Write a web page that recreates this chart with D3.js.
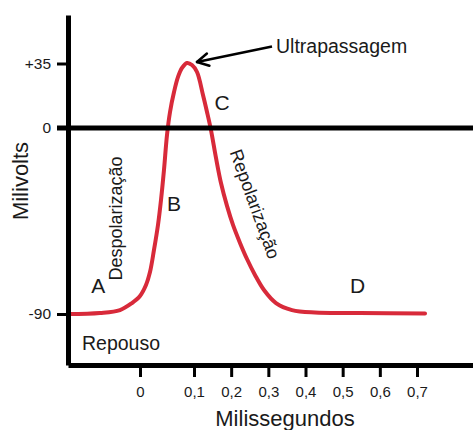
<!DOCTYPE html>
<html>
<head>
<meta charset="utf-8">
<script src="https://cdn.jsdelivr.net/npm/d3@7"></script>
<style>
  html, body { margin: 0; padding: 0; background: #ffffff; }
  svg { display: block; }
  text { font-family: "Liberation Sans", Arial, Helvetica, sans-serif; fill: #1a1a1a; }
</style>
</head>
<body>
<svg id="chart" width="473" height="430"></svg>
<script>
// ---- data ----
const timeMs = [-0.133, -0.0741, -0.037, -0.0148, 0, 0.0111, 0.0185, 0.0259, 0.0333, 0.0389, 0.0444, 0.05, 0.0556,
                0.063, 0.0704, 0.0778, 0.087, 0.0963, 0.1081, 0.1242, 0.135, 0.1457, 0.1592, 0.1726, 0.1888,
                0.2049, 0.2238, 0.2426, 0.2641, 0.2883, 0.3206, 0.3637, 0.4255, 0.5466, 0.7215];
const milivolts = [-90, -89.5, -88.1, -84.7, -81.3, -76.0, -69.7, -59.0, -46.9, -34.8, -20.3, -3.4, 8.7,
                   19.5, 27.7, 32.6, 35.3, 34.2, 30.4, 17.9, 8.7, -1.0, -14.5, -26.6, -37.7,
                   -46.9, -55.6, -63.4, -71.1, -78.4, -84.7, -88.1, -89.3, -89.5, -89.7];
const xTickValues = [0, 0.1, 0.2, 0.3, 0.4, 0.5, 0.6, 0.7];
const xTickLabels = ["0", "0,1", "0,2", "0,3", "0,4", "0,5", "0,6", "0,7"];
const yTickValues = [-90, 0, 35];
const yTickLabels = ["-90", "0", "+35"];
const phaseLabels = ["A", "B", "C", "D"];
const phaseTimes = [-0.09, 0.05, 0.155, 0.52];
const phaseVolts = [-80, -40, 10, -80];
const xTitle = "Milissegundos";
const yTitle = "Milivolts";
const peakLabel = "Ultrapassagem";
const restLabel = "Repouso";
const depolLabel = "Despolarização";
const repolLabel = "Repolarização";

// ---- scales (the original axes are not uniformly spaced) ----
const x = d3.scaleLinear().domain([-0.133, 0, 0.1, 0.7, 0.85]).range([68, 140, 194, 417, 473]);
const y = d3.scaleLinear().domain([-114.7, -90, 0, 35, 61.3]).range([365, 314, 128, 63.5, 15]);

const svg = d3.select("#chart");

// curve
const line = d3.line().x((d, i) => x(timeMs[i])).y(d => y(d)).curve(d3.curveCatmullRom.alpha(0.5));
svg.append("path")
  .attr("d", line(milivolts))
  .attr("fill", "none")
  .attr("stroke", "#d82a3a")
  .attr("stroke-width", 4)
  .attr("stroke-linejoin", "round")
  .attr("stroke-linecap", "round");

// zero line
svg.append("line")
  .attr("x1", 57).attr("x2", 473)
  .attr("y1", y(0)).attr("y2", y(0))
  .attr("stroke", "#000").attr("stroke-width", 5);

// x axis
const xAxis = d3.axisBottom(x)
  .tickValues(xTickValues)
  .tickFormat((d, i) => xTickLabels[i])
  .tickSize(12).tickSizeOuter(0).tickPadding(9);
const gx = svg.append("g").attr("transform", `translate(0,${y(-114.7)})`).call(xAxis);
gx.select(".domain").attr("stroke", "#000").attr("stroke-width", 5);
gx.selectAll(".tick line").attr("stroke", "#000").attr("stroke-width", 3);
gx.selectAll(".tick text").attr("font-size", 15).attr("fill", "#1a1a1a")
  .style("font-family", '"Liberation Sans", Arial, sans-serif');

// y axis
const yAxis = d3.axisLeft(y)
  .tickValues(yTickValues)
  .tickFormat((d, i) => yTickLabels[i])
  .tickSize(11).tickSizeOuter(0).tickPadding(6);
const gy = svg.append("g").attr("transform", `translate(${x(-0.133)},0)`).call(yAxis);
gy.select(".domain").attr("stroke", "#000").attr("stroke-width", 5);
gy.selectAll(".tick line").attr("stroke", "#000").attr("stroke-width", 3);
gy.selectAll(".tick text").attr("font-size", 15.5).attr("fill", "#1a1a1a")
  .style("font-family", '"Liberation Sans", Arial, sans-serif');

// axis titles
svg.append("text")
  .attr("x", 285).attr("y", 426)
  .attr("text-anchor", "middle")
  .attr("font-size", 22)
  .text(xTitle);
svg.append("text")
  .attr("transform", "translate(28,181) rotate(-90)")
  .attr("text-anchor", "middle")
  .attr("font-size", 22)
  .text(yTitle);

// phase letters
phaseLabels.forEach((lab, i) => {
  svg.append("text")
    .attr("x", x(phaseTimes[i])).attr("y", y(phaseVolts[i]))
    .attr("font-size", 21)
    .text(lab);
});

// rest label
svg.append("text")
  .attr("x", 82).attr("y", 350)
  .attr("font-size", 19.5)
  .text(restLabel);

// depolarisation (rotated)
svg.append("text")
  .attr("transform", "translate(115.5,218.5) rotate(-90)")
  .attr("text-anchor", "middle")
  .attr("dy", "0.35em")
  .attr("font-size", 18)
  .text(depolLabel);

// repolarisation (tilted)
svg.append("text")
  .attr("transform", "translate(255,204) rotate(70)")
  .attr("text-anchor", "middle")
  .attr("dy", "0.35em")
  .attr("font-size", 18)
  .text(repolLabel);

// overshoot label with arrow
const tipX = x(0.087) + 10, tipY = y(35.3) - 1;
const startX = 272, startY = 46.5;
svg.append("line")
  .attr("x1", startX).attr("y1", startY).attr("x2", tipX).attr("y2", tipY)
  .attr("stroke", "#000").attr("stroke-width", 2.5);
const ang = Math.atan2(startY - tipY, startX - tipX);
[-0.5, 0.5].forEach(a => {
  svg.append("line")
    .attr("x1", tipX).attr("y1", tipY)
    .attr("x2", tipX + 13 * Math.cos(ang + a)).attr("y2", tipY + 13 * Math.sin(ang + a))
    .attr("stroke", "#000").attr("stroke-width", 2.5).attr("stroke-linecap", "round");
});
svg.append("text")
  .attr("x", 276).attr("y", 53)
  .attr("font-size", 19.5)
  .text(peakLabel);
</script>
</body>
</html>
